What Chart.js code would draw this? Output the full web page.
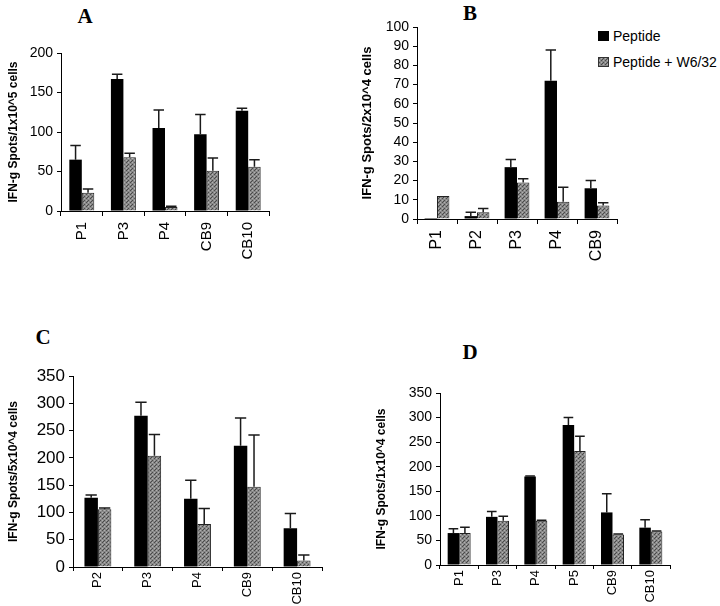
<!DOCTYPE html>
<html>
<head>
<meta charset="utf-8">
<script src="https://cdn.jsdelivr.net/npm/chart.js@4.4.1/dist/chart.umd.min.js"></script>
<style>
  body { margin: 0; background: #fff; }
  #fig { position: relative; width: 720px; height: 606px; background: #fff; overflow: hidden; }
  .panel { position: absolute; }
  .letter {
    position: absolute;
    font-family: "Liberation Serif", "Times New Roman", serif;
    font-weight: bold;
    font-size: 21px;
    color: #000;
    transform: translate(-50%, -50%);
  }
  .legend {
    position: absolute;
    left: 598px;
    top: 23px;
    font-family: "Liberation Sans", Arial, sans-serif;
    font-size: 14px;
    color: #000;
  }
  .legend div { height: 26px; display: flex; align-items: center; }
  .legend span.box { width: 11px; height: 10px; margin-right: 4px; display: inline-block; box-sizing: border-box; }
</style>
</head>
<body>
<div id="fig">
  <div class="letter" style="left:85px;top:16px">A</div>
  <div class="letter" style="left:470px;top:13px">B</div>
  <div class="letter" style="left:43px;top:337px">C</div>
  <div class="letter" style="left:470px;top:352px">D</div>

  <div class="legend">
    <div><span class="box" style="background:#000"></span>Peptide</div>
    <div><span class="box" id="grayBox" style="background:#888;border:1px solid #333"></span>Peptide + W6/32</div>
  </div>

  <div class="panel" style="left:0;top:0"><canvas id="chartA" width="300" height="290"></canvas></div>
  <div class="panel" style="left:360px;top:0"><canvas id="chartB" width="300" height="290"></canvas></div>
  <div class="panel" style="left:0;top:300px"><canvas id="chartC" width="340" height="306"></canvas></div>
  <div class="panel" style="left:360px;top:300px"><canvas id="chartD" width="340" height="306"></canvas></div>
</div>

<script>
// Panel A
const catsA = ["P1", "P3", "P4", "CB9", "CB10"];
const pepA = [65, 167, 105, 97, 127];
const pepErrA = [18, 6, 23, 25, 3];
const w6A = [23, 68, 5, 51, 56];
const w6ErrA = [5, 5, 1, 16, 9];

// Panel B
const catsB = ["P1", "P2", "P3", "P4", "CB9"];
const pepB = [0.5, 1.5, 27, 72, 16];
const pepErrB = [0, 2, 4, 16, 4];
const w6B = [12, 3.5, 19, 9, 7];
const w6ErrB = [0, 2, 2, 7.5, 1.5];

// Panel C
const catsC = ["P2", "P3", "P4", "CB9", "CB10"];
const pepC = [127, 277, 125, 222, 71];
const pepErrC = [5, 25, 34, 51, 27];
const w6C = [106, 204, 79, 147, 12];
const w6ErrC = [2, 39, 28, 95, 10];

// Panel D
const catsD = ["P1", "P3", "P4", "P5", "CB9", "CB10"];
const pepD = [65, 98, 180, 285, 107, 76];
const pepErrD = [9, 11, 1, 15, 38, 16];
const w6D = [65, 90, 90, 232, 62, 68];
const w6ErrD = [12, 9, 1, 30, 1, 1];

const FONT = '"Liberation Sans", Arial, sans-serif';

// stippled gray fill used for the W6/32 bars
function makeStipple() {
  const c = document.createElement("canvas");
  c.width = 4;
  c.height = 4;
  const g = c.getContext("2d");
  g.fillStyle = "#888";
  g.fillRect(0, 0, 4, 4);
  g.fillStyle = "#4a4a4a";
  g.fillRect(0, 0, 1, 1);
  g.fillRect(2, 2, 1, 1);
  g.fillRect(3, 1, 1, 1);
  g.fillStyle = "#b0b0b0";
  g.fillRect(2, 0, 1, 1);
  g.fillRect(0, 2, 1, 1);
  return g.createPattern(c, "repeat");
}
const stipple = makeStipple();

const errorBars = {
  id: "errorBars",
  afterDatasetsDraw(chart) {
    const ctx = chart.ctx;
    const yScale = chart.scales.y;
    ctx.save();
    ctx.strokeStyle = "#1a1a1a";
    ctx.lineWidth = 1.5;
    chart.data.datasets.forEach((ds, i) => {
      chart.getDatasetMeta(i).data.forEach((bar, j) => {
        const err = ds.errors[j];
        if (!err) return;
        const top = yScale.getPixelForValue(ds.data[j] + err);
        const half = bar.width * 0.42;
        ctx.beginPath();
        ctx.moveTo(bar.x, bar.y);
        ctx.lineTo(bar.x, top);
        ctx.moveTo(bar.x - half, top);
        ctx.lineTo(bar.x + half, top);
        ctx.stroke();
      });
    });
    ctx.restore();
  },
};

function makePanel(id, p) {
  const canvas = document.getElementById(id);
  return new Chart(canvas.getContext("2d"), {
    type: "bar",
    data: {
      labels: p.labels,
      datasets: [
        {
          label: "Peptide",
          data: p.pep,
          errors: p.pepErr,
          backgroundColor: "#000",
          borderWidth: 0,
        },
        {
          label: "Peptide + W6/32",
          data: p.w6,
          errors: p.w6Err,
          backgroundColor: stipple,
          borderColor: "#222",
          borderWidth: 1,
        },
      ],
    },
    options: {
      responsive: false,
      animation: false,
      events: [],
      layout: { padding: { top: p.top, right: p.right, left: 0, bottom: 0 } },
      datasets: {
        bar: { categoryPercentage: p.catPct, barPercentage: 1 },
      },
      plugins: {
        legend: { display: false },
        tooltip: { enabled: false },
      },
      scales: {
        x: {
          afterFit: (s) => { s.height = p.xHeight; },
          grid: { drawOnChartArea: false, drawTicks: true, tickLength: p.xTick, color: "#000", offset: true },
          border: { color: "#000", width: 1 },
          ticks: {
            color: "#000",
            font: { family: FONT, size: p.catSize },
            minRotation: 90,
            maxRotation: 90,
            autoSkip: false,
            padding: p.catPad,
          },
        },
        y: {
          min: 0,
          max: p.max,
          afterFit: (s) => { s.width = p.yWidth; },
          grid: { drawOnChartArea: false, drawTicks: true, tickLength: 4, color: "#000" },
          border: { color: "#000", width: 1 },
          ticks: {
            stepSize: p.step,
            autoSkip: false,
            color: "#000",
            font: { family: FONT, size: p.tickSize },
            padding: 4,
          },
          title: {
            display: true,
            text: p.yTitle,
            color: "#000",
            font: { family: FONT, size: p.titleSize, weight: "bold" },
            padding: { top: p.titlePad, bottom: 0 },
          },
        },
      },
    },
    plugins: [errorBars],
  });
}

makePanel("chartA", {
  labels: catsA, pep: pepA, pepErr: pepErrA, w6: w6A, w6Err: w6ErrA,
  max: 200, step: 50, yTitle: "IFN-g Spots/1x10^5 cells",
  top: 53, right: 31, yWidth: 61, xHeight: 79, catPct: 0.6,
  tickSize: 14, catSize: 15, titleSize: 12, titlePad: 6, xTick: 5, catPad: 6,
});

makePanel("chartB", {
  labels: catsB, pep: pepB, pepErr: pepErrB, w6: w6B, w6Err: w6ErrB,
  max: 100, step: 10, yTitle: "IFN-g Spots/2x10^4 cells",
  top: 27, right: 43, yWidth: 57, xHeight: 71, catPct: 0.62,
  tickSize: 14, catSize: 16, titleSize: 13, titlePad: 0, xTick: 5, catPad: 6,
});

makePanel("chartC", {
  labels: catsC, pep: pepC, pepErr: pepErrC, w6: w6C, w6Err: w6ErrC,
  max: 350, step: 50, yTitle: "IFN-g Spots/5x10^4 cells",
  top: 76, right: 18, yWidth: 73, xHeight: 39, catPct: 0.54,
  tickSize: 17, catSize: 13, titleSize: 12, titlePad: 6, xTick: 4, catPad: 1,
});

makePanel("chartD", {
  labels: catsD, pep: pepD, pepErr: pepErrD, w6: w6D, w6Err: w6ErrD,
  max: 350, step: 50, yTitle: "IFN-g Spots/1x10^4 cells",
  top: 93, right: 30, yWidth: 80, xHeight: 41, catPct: 0.6,
  tickSize: 14, catSize: 13, titleSize: 12, titlePad: 14, xTick: 4, catPad: 1,
});

// legend swatch uses the same stipple as the bars
const gb = document.getElementById("grayBox");
const sw = document.createElement("canvas");
sw.width = 4; sw.height = 4;
const sg = sw.getContext("2d");
sg.fillStyle = stipple;
sg.fillRect(0, 0, 4, 4);
gb.style.backgroundImage = "url(" + sw.toDataURL() + ")";
</script>
</body>
</html>
